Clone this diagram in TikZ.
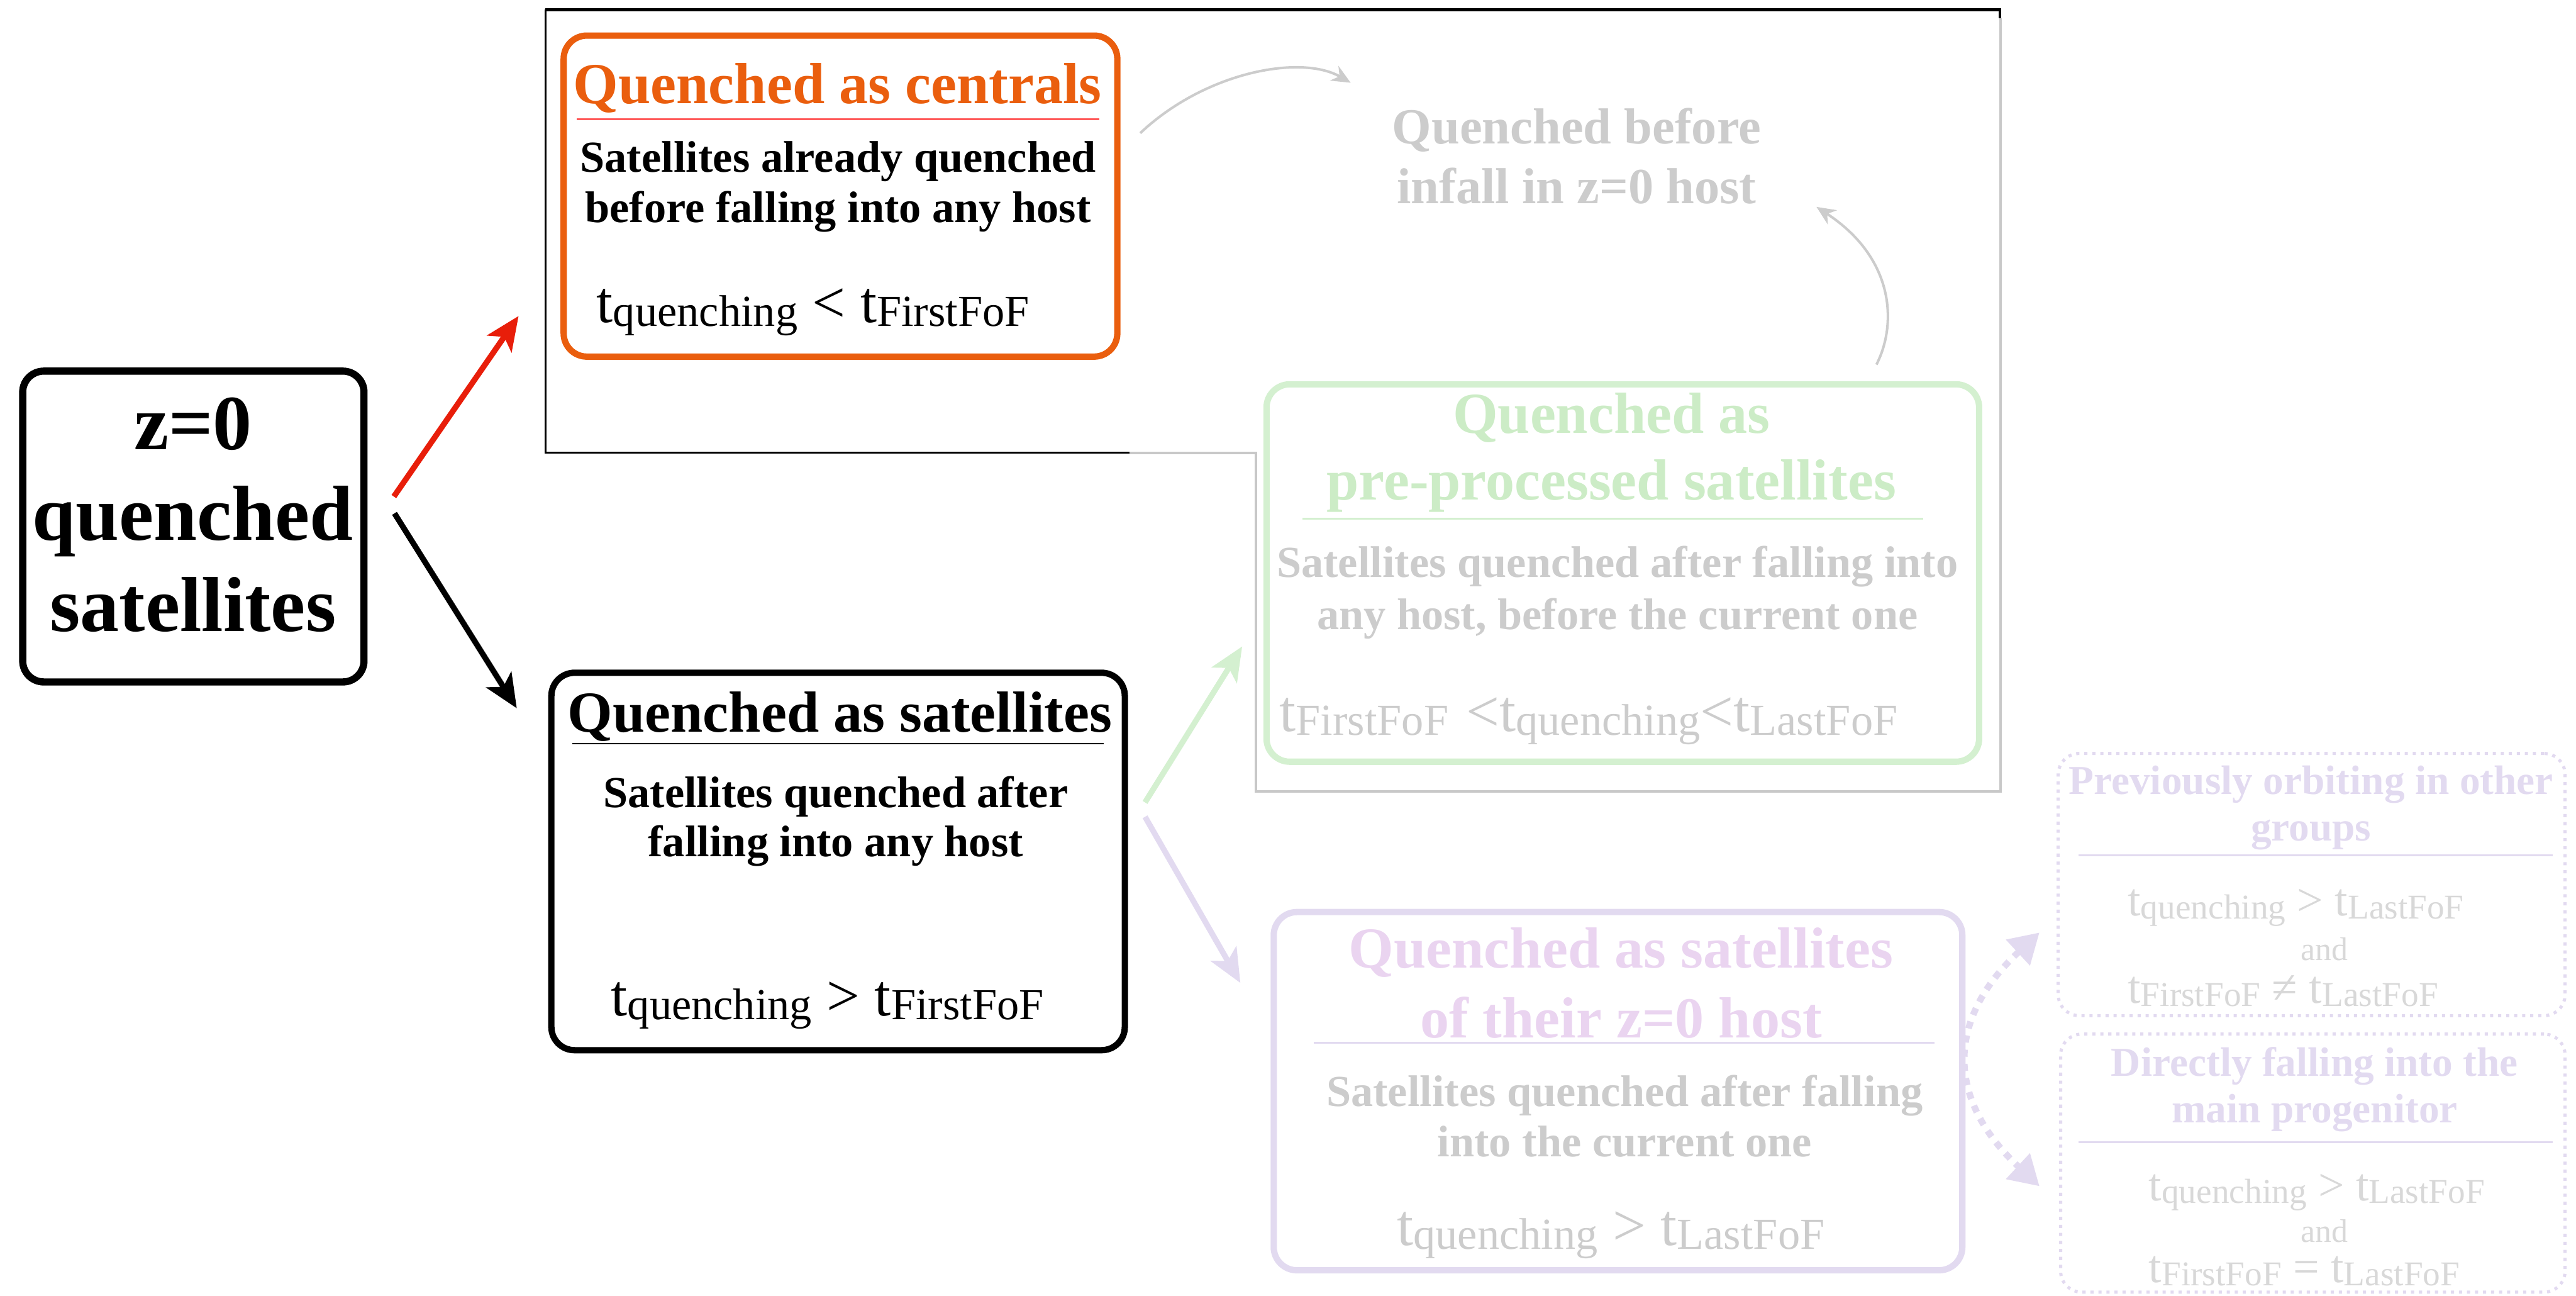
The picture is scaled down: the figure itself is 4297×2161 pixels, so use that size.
\documentclass[tikz,border=0pt]{standalone}
\usepackage{fontspec}
\setmainfont{Liberation Serif}
\usepackage{graphicx}
\usetikzlibrary{arrows.meta}

\definecolor{orangeQ}{RGB}{234,94,14}
\definecolor{redArr}{RGB}{232,30,10}
\definecolor{greenQ}{RGB}{212,240,208}
\definecolor{greenT}{RGB}{204,236,198}
\definecolor{purpQ}{RGB}{226,218,240}
\definecolor{purpT}{RGB}{234,212,240}
\definecolor{fadeT}{RGB}{204,204,204}
\definecolor{fadeF}{RGB}{216,216,216}
\definecolor{frameG}{RGB}{200,200,200}

\newcommand{\fsz}[2]{\fontsize{#1}{#2}\selectfont}
\newcommand{\tsub}[1]{t\raisebox{-0.06em}{\scalebox{0.75}{#1}}}

\begin{document}
\begin{tikzpicture}[x=0.01cm, y=-0.01cm,
  box/.style={draw, rounded corners=11pt, line width=3pt, inner sep=0pt},
  dotbox/.style={draw=purpQ, rounded corners=10pt, line width=1.5pt, dash pattern=on 1.5pt off 2.3pt, inner sep=0pt},
  ttl/.style={font=\bfseries\fsz{27.5}{32.5}, align=center, anchor=base},
  dsc/.style={font=\bfseries\fsz{21}{24}, align=center, anchor=base},
  frm/.style={font=\fsz{28}{32}, anchor=base west},
  sml/.style={font=\bfseries\fsz{19.5}{22}, align=center, anchor=base},
  mainarr/.style={line width=2.7pt, -{Stealth[length=16pt, width=14pt, inset=4pt]}},
  arcarr/.style={fadeT, line width=1.2pt, -{Stealth[length=9pt, width=8pt]}},
  dotarr/.style={purpQ, line width=3.1pt, dash pattern=on 3.4pt off 3.4pt,
    {Triangle[length=14pt, width=16pt]}-{Triangle[length=14pt, width=16pt]}}]

\useasboundingbox (0,0) rectangle (4297,2161);

%% Frame round the centrals branch
\draw[black, line width=1pt] (1884,755) -- (910,755) -- (910,16);
\draw[black, line width=1.4pt] (910,16) -- (3336,16) -- (3336,30);
\draw[frameG, line width=1.1pt] (1884,755) -- (2095,755) -- (2095,1320) -- (3337,1320) -- (3337,30);

%% z=0 box (multi-line nodes sit on their last baseline)
\node[box, line width=3.4pt, rounded corners=10pt, minimum width=5.69cm, minimum height=5.18cm] (zbox) at (322.5,878) {};
\node[font=\bfseries\fsz{37}{43.2}, align=center, anchor=base] (ztxt) at (322,1053) {z=0\\quenched\\satellites};

%% Quenched as centrals
\node[box, draw=orangeQ, minimum width=9.23cm, minimum height=5.35cm] (central) at (1402,327) {};
\node[ttl, text=orangeQ] (centralT) at (1397,173) {Quenched as centrals};
\draw[red!65!white, line width=0.8pt] (962,199) -- (1834,199);
\node[dsc] (centralD) at (1398,371) {Satellites already quenched\\before falling into any host};
\node[frm] (centralF) at (983,538) {\tsub{quenching} < \tsub{FirstFoF}};

%% Quenched as satellites
\node[box, minimum width=9.56cm, minimum height=6.29cm] (satbox) at (1398,1436.5) {};
\node[ttl] (satT) at (1401,1221) {Quenched as satellites};
\draw[black, line width=0.6pt] (955,1240) -- (1841,1240);
\node[dsc, font=\bfseries\fsz{21}{23.3}] (satD) at (1394,1428) {Satellites quenched after\\falling into any host};
\node[frm] (satF) at (1007,1694) {\tsub{quenching} > \tsub{FirstFoF}};

%% Quenched before infall
\node[font=\bfseries\fsz{24}{28.2}, text=fadeT, align=center, anchor=base] (before) at (2630,339) {Quenched before\\infall in z=0 host};

%% Pre-processed
\node[box, draw=greenQ, minimum width=11.88cm, minimum height=6.29cm] (preproc) at (2707,955.5) {};
\node[ttl, text=greenT, font=\bfseries\fsz{27.5}{31.9}] (preprocT) at (2688,834) {Quenched as\\pre-processed satellites};
\draw[greenQ, line width=0.9pt] (2173,865) -- (3208,865);
\node[dsc, text=fadeT, font=\bfseries\fsz{21}{24.8}] (preprocD) at (2698,1050) {Satellites quenched after falling into\\any host, before the current one};
\node[frm, text=fadeT] (preprocF) at (2122,1220) {\tsub{FirstFoF}\hspace{0.3em}<\tsub{quenching}<\tsub{LastFoF}};

%% Satellites of z=0 host
\node[box, draw=purpQ, minimum width=11.48cm, minimum height=5.97cm] (hostbox) at (2699,1819.5) {};
\node[ttl, text=purpT, font=\bfseries\fsz{27.5}{33}] (hostT) at (2704,1730) {Quenched as satellites\\of their z=0 host};
\draw[purpQ, line width=0.9pt] (2191,1739) -- (3227,1739);
\node[dsc, text=fadeT] (hostD) at (2710,1929) {Satellites quenched after falling\\into the current one};
\node[frm, text=fadeT] (hostF) at (2318,2077) {\tsub{quenching} > \tsub{LastFoF}};

%% Right hand split
\node[dotbox, minimum width=8.45cm, minimum height=4.37cm] (orbit) at (3856,1475) {};
\node[sml, text=purpQ] (orbitT) at (3855,1402) {Previously orbiting in other\\groups};
\draw[purpQ, line width=0.9pt] (3467,1426) -- (4258,1426);
\node[frm, text=fadeF, font=\fsz{22}{25}] (orbitF1) at (3537,1527) {\tsub{quenching} > \tsub{LastFoF}};
\node[font=\fsz{15.5}{18}, text=fadeF, anchor=base] (orbitAnd) at (3877,1601) {and};
\node[frm, text=fadeF, font=\fsz{22}{25}] (orbitF2) at (3537,1673) {\tsub{FirstFoF} ≠ \tsub{LastFoF}};

\node[dotbox, minimum width=8.41cm, minimum height=4.30cm] (direct) at (3858,1939.5) {};
\node[sml, text=purpQ] (directT) at (3861,1872) {Directly falling into the\\main progenitor};
\draw[purpQ, line width=0.9pt] (3467,1905) -- (4258,1905);
\node[frm, text=fadeF, font=\fsz{22}{25}] (directF1) at (3572,2002) {\tsub{quenching} > \tsub{LastFoF}};
\node[font=\fsz{15.5}{18}, text=fadeF, anchor=base] (directAnd) at (3877,2071) {and};
\node[frm, text=fadeF, font=\fsz{22}{25}] (directF2) at (3572,2139) {\tsub{FirstFoF} = \tsub{LastFoF}};

%% arrow ends
\coordinate (redtail) at (657,828);
\coordinate (redtip) at (865,527);
\coordinate (blktail) at (658,856);
\coordinate (blktip) at (862,1181);
\coordinate (grntail) at (1910,1338);
\coordinate (grntip) at (2072,1078);
\coordinate (prptail) at (1910,1362);
\coordinate (prptip) at (2069,1639);
\coordinate (arcAtail) at (1902,222);
\coordinate (arcAtip) at (2253,138);
\coordinate (arcBtail) at (3130,608);
\coordinate (arcBtip) at (3030,345);
\coordinate (dotup) at (3402,1555);
\coordinate (dotdown) at (3402,1978);

%% arrows
\draw[mainarr, redArr] (redtail) -- (redtip);
\draw[mainarr, black] (blktail) -- (blktip);
\draw[mainarr, greenQ] (grntail) -- (grntip);
\draw[mainarr, purpQ] (prptail) -- (prptip);
\draw[arcarr] (arcAtail) .. controls (2010,120) and (2170,90) .. (arcAtip);
\draw[arcarr] (arcBtail) .. controls (3165,540) and (3160,430) .. (arcBtip);
\draw[dotarr] (dotup) .. controls (3246,1700) and (3246,1833) .. (dotdown);

\end{tikzpicture}
\end{document}
